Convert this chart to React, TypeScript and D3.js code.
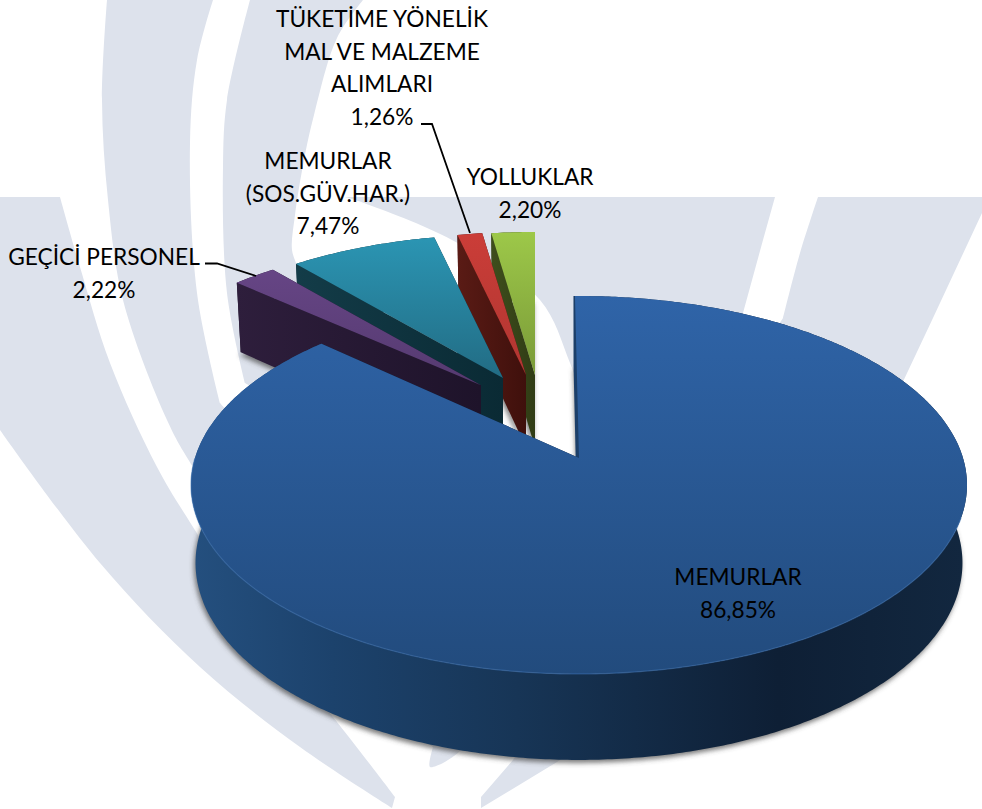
import React from "react";
import * as d3 from "d3";

// ---- data ----
const names = ["MEMURLAR", "GEÇİCİ PERSONEL", "MEMURLAR (SOS.GÜV.HAR.)", "TÜKETİME YÖNELİK MAL VE MALZEME ALIMLARI", "YOLLUKLAR"];
const values = [86.85, 2.22, 7.47, 1.26, 2.2];
const valueLabels = ["86,85%", "2,22%", "7,47%", "1,26%", "2,20%"];
const explodeX = [1, -97, -75, -52, -43];
const explodeV = [0, -0.417, -0.46, -0.479, -0.479];
const startTweak = [-0.012, 0, 0, 0, 0];

const topColors = [["#2f64a8", "#224b7d"], ["#664585", "#553a70"], ["#2b95b3", "#226c84"], ["#cb3d38", "#b03631"], ["#9dc849", "#7a9a38"]];
const wallColors = [["#244f7e", "#0e1f35"], ["#2e1e3c", "#1e132a"], ["#133c48", "#0a2a34"], ["#5a1b15", "#3f100c"], ["#3e4e1c", "#303c15"]];
const paintOrder = [4, 3, 2, 1, 0];

// label text lines
const labelIdx = [0, 1, 2, 3, 4];
const labelLines = [["MEMURLAR"], ["GEÇİCİ PERSONEL"], ["MEMURLAR", "(SOS.GÜV.HAR.)"], ["TÜKETİME YÖNELİK", "MAL VE MALZEME", "ALIMLARI"], ["YOLLUKLAR"]];
const labelX = [738, 104, 328, 382, 530];
const labelY = [585, 265, 169, 27, 185];
const labelStep = [33, 32.5, 32.5, 32.7, 33];
const leaders: [number, number][][] = [
  [[205, 263.5], [217, 263.5], [256, 276]],
  [[421, 124], [432, 124], [470, 233]],
];

// ---- projection of the pie disc ----
const cx = 578;
const kT = 1 / 7, aT = 185.1, bT = 384, cyT = 458;
const kB = 0.147, aB = 192.7, bB = 379.3, cyB = 534;
type P = [number, number];
const topP = (u: number, v: number, dx = 0): P => { const s = 1 / (1 - kT * v); return [cx + dx + bT * u * s, cyT + aT * v * s]; };
const botP = (u: number, v: number, dx = 0): P => { const s = 1 / (1 - kB * v); return [cx + dx + bB * u * s, cyB + aB * v * s]; };
type Proj = typeof topP;

const closed = d3.line<P>().curve(d3.curveLinearClosed);
const open = d3.line<P>();

const arcs = d3.pie<number>().sort(null).value((d) => d)(values);
const startOf = (i: number) => arcs[i].startAngle + startTweak[i];

function angles(a0: number, a1: number) {
  const n = Math.max(3, Math.ceil((a1 - a0) / 0.01));
  return d3.range(n + 1).map((i) => a0 + ((a1 - a0) * i) / n);
}
function ring(i: number, proj: Proj, a0 = startOf(i), a1 = arcs[i].endAngle): P[] {
  return angles(a0, a1).map((a) => proj(Math.sin(a), -Math.cos(a) + explodeV[i], explodeX[i]));
}
const apex = (i: number, proj: Proj) => proj(0, explodeV[i], explodeX[i]);
function radialWall(i: number, a: number) {
  const u = Math.sin(a);
  const v = -Math.cos(a) + explodeV[i];
  return closed([apex(i, topP), topP(u, v, explodeX[i]), botP(u, v, explodeX[i]), apex(i, botP)]);
}

// ---- watermark behind the chart ----
type Edge = P[];
const bgShapes: Edge[][] = [
  [
    [[0, 197], [60, 197]],
    [[60, 197], [80, 267], [110, 363], [157, 467], [193, 527], [260, 630], [333, 717], [395, 797]],
    [[395, 797], [392, 808]],
    [[392, 808], [300, 747], [200, 667], [100, 563], [0, 430]],
  ],
  [
    [[107, 0], [102, 100], [108, 200], [123, 300], [167, 420], [193, 467], [300, 620], [433, 747]],
    [[433, 747], [430, 767], [470, 735], [300, 500], [220, 403]],
    [[220, 403], [197, 293], [190, 143], [197, 60], [213, 0]],
  ],
  [
    [[250, 0], [227, 100], [223, 167], [227, 293], [245, 383]],
    [[245, 383], [400, 450], [480, 400], [297, 265]],
    [[297, 265], [292, 250], [295, 215], [304, 160], [314, 115], [337, 38], [363, 0]],
  ],
  [
    [[345, 197], [775, 197]],
    [[775, 197], [763, 240], [743, 313]],
    [[743, 313], [700, 420], [590, 420]],
    [[590, 420], [570, 363], [540, 300], [452, 240], [364, 203], [345, 197]],
  ],
  [
    [[818, 197], [982, 197], [982, 213]],
    [[982, 213], [933, 318]],
    [[933, 318], [800, 600], [557, 762], [481, 808], [481, 797], [513, 760], [600, 600], [783, 318]],
    [[783, 318], [800, 253], [818, 197]],
  ],
];
const smooth = d3.line<P>().curve(d3.curveCatmullRom.alpha(0.5));
function bgPath(edges: Edge[]) {
  return (
    edges
      .map((e, i) => {
        const straight = e.length <= 3 && e !== edges[edges.length - 1];
        const s = (straight || (e.length > 6 && e[0][1] === 318) ? open(e) : smooth(e)) as string;
        return i === 0 ? s : "L" + s.slice(1);
      })
      .join("") + "Z"
  );
}

const font = "Lato, Carlito, Calibri, sans-serif";

export default function App() {
  return (
    <svg width={982} height={809} viewBox="0 0 982 809" style={{ position: "absolute", left: 0, top: 0, background: "#fff" }}>
      <defs>
        <filter id="sh" x="-10%" y="-10%" width="120%" height="120%">
          <feGaussianBlur stdDeviation="2.4" />
        </filter>
        {values.map((_, i) => (
          <linearGradient key={"t" + i} id={"top" + i} x1="0" y1="0" x2="0" y2="1">
            <stop offset="0" stopColor={topColors[i][0]} />
            <stop offset="1" stopColor={topColors[i][1]} />
          </linearGradient>
        ))}
        {values.map((_, i) => (
          <linearGradient key={"w" + i} id={"wall" + i} x1="0" y1="0" x2="1" y2="0">
            <stop offset="0" stopColor={wallColors[i][0]} />
            <stop offset="1" stopColor={wallColors[i][1]} />
          </linearGradient>
        ))}
        <linearGradient id="rim0" gradientUnits="userSpaceOnUse" x1="195" y1="0" x2="962" y2="0">
          <stop offset="0" stopColor="#244f7e" />
          <stop offset="0.18" stopColor="#1c426c" />
          <stop offset="0.42" stopColor="#173556" />
          <stop offset="0.76" stopColor="#0e1f35" />
          <stop offset="1" stopColor="#12273f" />
        </linearGradient>
      </defs>

      <g fill="#dde2ec">
        {bgShapes.map((s, i) => (
          <path key={i} d={bgPath(s)} />
        ))}
      </g>

      {/* soft shadows cast by the bottom faces */}
      <g filter="url(#sh)" fill="#4a4a4a" fillOpacity={0.72} transform="translate(-1.5,3)">
        {arcs.map((_, i) => (
          <path key={i} d={closed([apex(i, botP), ...ring(i, botP)]) as string} />
        ))}
      </g>

      {paintOrder.map((i) => {
        const a = arcs[i];
        const rimTop = ring(i, topP);
        const rimBot = ring(i, botP).reverse();
        return (
          <g key={i} data-name={names[i]} data-value={values[i]}>
            <path d={radialWall(i, a.endAngle) as string} fill={wallColors[i][1]} />
            <path d={closed([...rimTop, ...rimBot]) as string} fill={i === 0 ? "url(#rim0)" : wallColors[i][1]} />
            <path
              d={radialWall(i, startOf(i)) as string}
              fill={`url(#wall${i})`}
              stroke={i === 0 ? "#1c3f69" : "none"}
              strokeWidth={i === 0 ? 3 : 0}
            />
            <path d={closed([apex(i, topP), ...rimTop]) as string} fill={`url(#top${i})`} />
            {i === 0 && (
              <path
                d={open(ring(0, topP, Math.PI * 0.6, Math.PI * 1.5)) as string}
                fill="none"
                stroke="#3c72b3"
                strokeOpacity={0.5}
                strokeWidth={1.3}
              />
            )}
          </g>
        );
      })}

      <g fill="none" stroke="#000" strokeWidth={1.8}>
        {leaders.map((l, i) => (
          <path key={i} d={open(l) as string} />
        ))}
      </g>

      <g fontFamily={font} fontSize={22.7} fill="#000" textAnchor="middle">
        {labelIdx.map((i) => (
          <text key={i} x={labelX[i]} y={labelY[i]}>
            {[...labelLines[i], valueLabels[i]].map((t, j) => (
              <tspan key={j} x={labelX[i]} y={labelY[i] + j * labelStep[i]}>
                {t}
              </tspan>
            ))}
          </text>
        ))}
      </g>
    </svg>
  );
}
